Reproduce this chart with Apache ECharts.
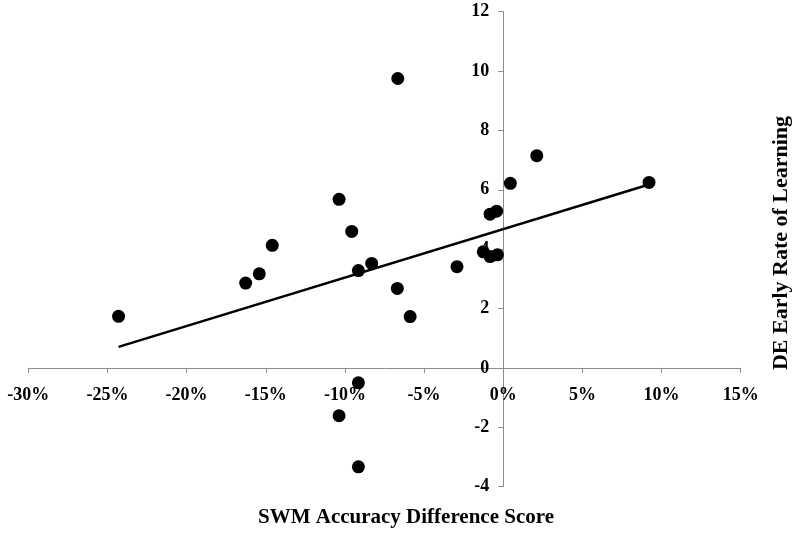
<!DOCTYPE html>
<html>
<head>
<meta charset="utf-8">
<script src="https://cdn.jsdelivr.net/npm/echarts@6/dist/echarts.min.js"></script>
<style>html,body{margin:0;padding:0;background:#fff}#c{width:800px;height:538px}</style>
</head>
<body>
<div id="c"></div>
<script>
// SWM accuracy difference score (%)
var swmX = [-24.3, -16.27, -15.41, -14.59, -10.37, -9.57, -9.15, -8.31, -6.66, -6.69, -5.88, -2.92, -1.26, -0.83, -0.37, -0.83, -0.42, 0.45, 2.12, 9.21, -9.15, -10.37, -9.15];
// DE early rate of learning
var deY = [1.74, 2.86, 3.17, 4.13, 5.68, 4.60, 3.28, 3.52, 9.75, 2.68, 1.73, 3.41, 3.91, 3.75, 3.81, 5.18, 5.28, 6.22, 7.15, 6.25, -0.50, -1.61, -3.33];
// trend line end points
var trendX = [-24.3, 9.21];
var trendY = [0.71, 6.18];
var xTitle = 'SWM Accuracy Difference Score';
var yTitle = 'DE Early Rate of Learning';

var pts = swmX.map(function (x, i) { return [x, deY[i]]; });
var trend = trendX.map(function (x, i) { return [x, trendY[i]]; });
var FONT = 'Liberation Serif';

var G = {left: 28.3, right: 59.3, top: 11.7, bottom: 51.3};
var W = 800, H = 538;
var XMIN = -30, XMAX = 15, YMIN = -4, YMAX = 12;
var plotW = W - G.left - G.right, plotH = H - G.top - G.bottom;
// shift axes so they cross at the origin
var xOff = -((0 - YMIN) / (YMAX - YMIN)) * plotH;
var yOff = -((0 - XMIN) / (XMAX - XMIN)) * plotW;

var chart = echarts.init(document.getElementById('c'), null, {renderer: 'canvas'});
chart.setOption({
  animation: false,
  backgroundColor: '#fff',
  grid: {left: G.left, right: G.right, top: G.top, bottom: G.bottom, containLabel: false},
  xAxis: {
    type: 'value', min: XMIN, max: XMAX, interval: 5, position: 'bottom', offset: xOff,
    axisLine: {onZero: false, lineStyle: {color: '#8c8c8c', width: 1}},
    axisTick: {show: true, length: 5, inside: false, lineStyle: {color: '#8c8c8c'}},
    splitLine: {show: false},
    axisLabel: {formatter: '{value}%', margin: 18, color: '#000', fontFamily: FONT, fontWeight: 'bold', fontSize: 18}
  },
  yAxis: {
    type: 'value', min: YMIN, max: YMAX, interval: 2, position: 'left', offset: yOff,
    axisLine: {onZero: false, lineStyle: {color: '#8c8c8c', width: 1}},
    axisTick: {show: true, length: 5, inside: false, lineStyle: {color: '#8c8c8c'}},
    splitLine: {show: false},
    axisLabel: {margin: 14, color: '#000', fontFamily: FONT, fontWeight: 'bold', fontSize: 18}
  },
  graphic: [
    {type: 'text', x: 406, y: 518, style: {text: xTitle, font: 'bold 21px "Liberation Serif"', fill: '#000', textAlign: 'center', textVerticalAlign: 'middle'}},
    {type: 'text', x: 781, y: 243, rotation: Math.PI / 2, style: {text: yTitle, font: 'bold 22px "Liberation Serif"', fill: '#000', textAlign: 'center', textVerticalAlign: 'middle'}}
  ],
  series: [
    {type: 'line', data: trend, symbol: 'none', lineStyle: {color: '#000', width: 2.6}, z: 2},
    {type: 'scatter', data: pts, symbol: 'circle', symbolSize: 13, itemStyle: {color: '#000', opacity: 1}, z: 3}
  ]
});
</script>
</body>
</html>
